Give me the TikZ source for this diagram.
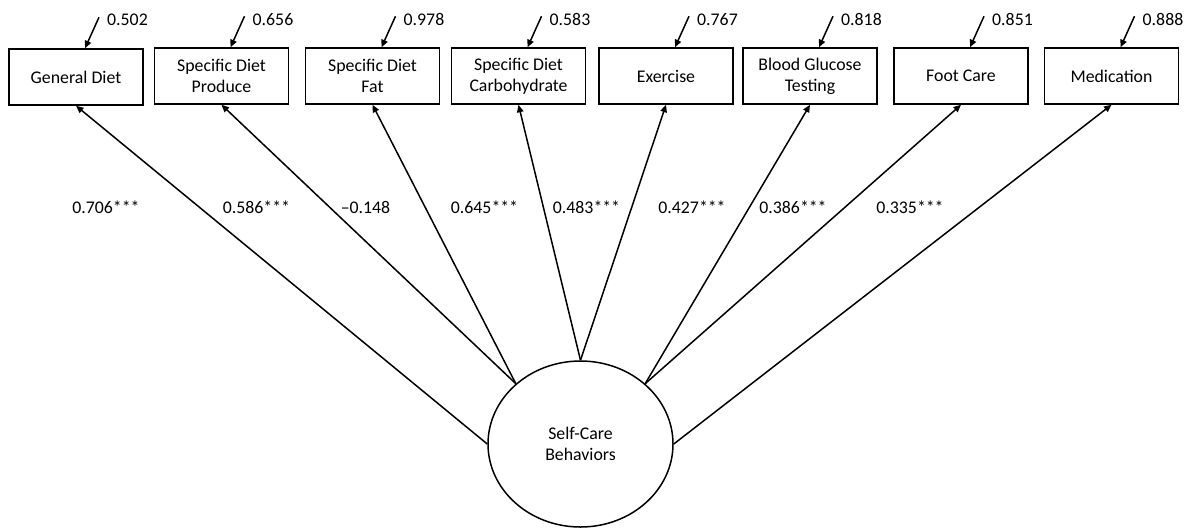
\documentclass[tikz,border=0pt]{standalone}
\usepackage{fontspec}
\setmainfont{Carlito}
\usetikzlibrary{arrows.meta,shapes.geometric}
\begin{document}
\begin{tikzpicture}[x=1pt,y=-1pt,
  txt/.style={font=\fontsize{17.8}{21}\selectfont},
  obs/.style={txt,draw,line width=1.5pt,minimum width=134pt,minimum height=56pt,align=center,inner sep=0pt},
  lat/.style={txt,draw,ellipse,line width=1.5pt,minimum width=185pt,minimum height=166pt,align=center,inner sep=0pt},
  lbl/.style={txt,inner sep=0pt},
  arr/.style={line width=1.5pt,-{Triangle[length=7.5pt,width=6.5pt]}}]
\useasboundingbox (0,0) rectangle (1190,528);
% observed variables
\node[obs] (b1) at (76,77) {General Diet};
\node[obs] (b2) at (221.5,76) {Specific Diet\\Produce};
\node[obs] (b3) at (372.5,76) {Specific Diet\\Fat};
\node[obs] (b4) at (518.5,76) {Specific Diet\\Carbohydrate};
\node[obs] (b5) at (666,76) {Exercise};
\node[obs] (b6) at (810,76) {Blood Glucose\\Testing};
\node[obs] (b7) at (961,76) {Foot Care};
\node[obs] (b8) at (1111.5,76) {Medication};
% latent
\node[lat] (sc) at (580.5,444) {Self-Care\\Behaviors};
% error terms
\foreach \i/\v in {1/0.502,2/0.656,3/0.978,4/0.583,5/0.767,6/0.818,7/0.851,8/0.888}{
  \coordinate (t\i) at ([xshift=9pt]b\i.north);
  \coordinate (e\i) at ([xshift=23pt,yshift=31pt]b\i.north);
  \draw[arr] (e\i) -- (t\i);
  \node[lbl,anchor=west] (v\i) at ([xshift=8pt,yshift=-3pt]e\i) {\v};
}
% loadings
\draw[arr] (sc.west) -- (b1.south);
\draw[arr] (sc.137) -- (b2.south);
\draw[arr] (sc.137) -- (b3.south);
\draw[arr] (sc.north) -- (b4.south);
\draw[arr] (sc.north) -- (b5.south);
\draw[arr] (sc.43) -- (b6.south);
\draw[arr] (sc.43) -- (b7.south);
\draw[arr] (sc.east) -- (b8.south);
% path labels
\node[lbl] (l1) at (106,207) {0.706***};
\node[lbl] (l2) at (256.5,207) {0.586***};
\node[lbl] (l3) at (365.5,207) {–0.148};
\node[lbl] (l4) at (484.5,207) {0.645***};
\node[lbl] (l5) at (586.5,207) {0.483***};
\node[lbl] (l6) at (692,207) {0.427***};
\node[lbl] (l7) at (793,207) {0.386***};
\node[lbl] (l8) at (910,207) {0.335***};
\end{tikzpicture}
\end{document}
